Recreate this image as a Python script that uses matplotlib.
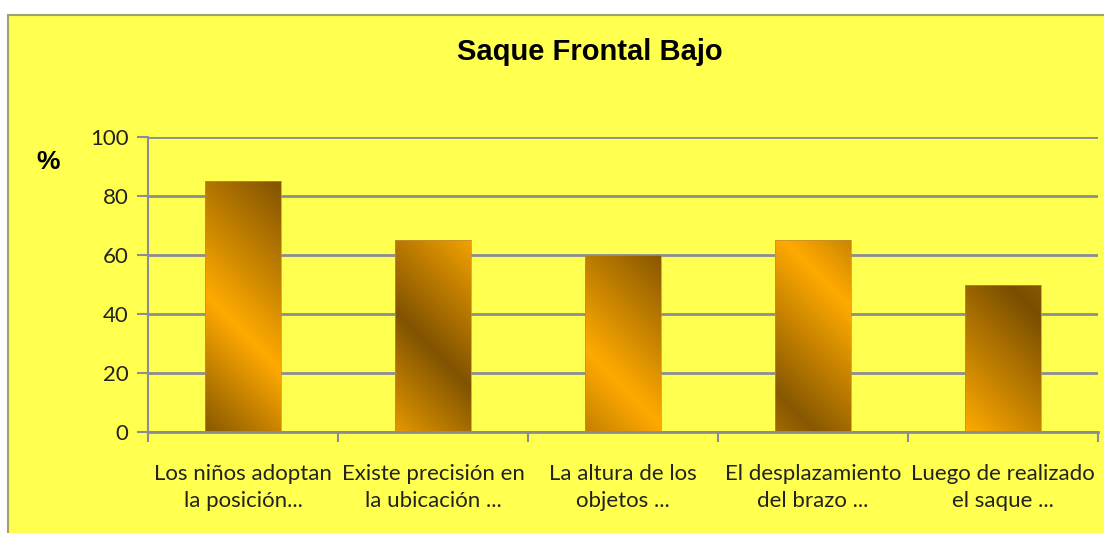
import numpy as np
import matplotlib
matplotlib.use("Agg")
from matplotlib import pyplot as plt
from matplotlib.patches import Rectangle
from matplotlib.colors import to_rgb

# Data
categories = ["Los niños adoptan\nla posición...", "Existe precisión en\nla ubicación ...",
              "La altura de los\nobjetos ...", "El desplazamiento\ndel brazo ...",
              "Luego de realizado\nel saque ..."]
values = [85, 65, 60, 65, 50]
yticks = [0, 20, 40, 60, 80, 100]

# gradient stops per bar (position along top-right -> bottom-left, lightness)
shade_stops = [
    [(0.0, 0.05), (0.58, 1.0), (1.0, 0.1)],
    [(0.0, 0.9), (0.55, 0.05), (1.0, 0.8)],
    [(0.0, 0.1), (0.67, 1.0), (1.0, 0.55)],
    [(0.0, 0.6), (0.25, 1.0), (0.85, 0.1), (1.0, 0.3)],
    [(0.0, 0.1), (0.15, 0.0), (1.0, 1.0)],
]

DARK = np.array(to_rgb("#7a4e00"))
LIGHT = np.array(to_rgb("#ffaa00"))
YELLOW = "#ffff4f"
GRID = "#8c8c96"

fig = plt.figure(figsize=(11.04, 5.33), dpi=100)
fig.patch.set_facecolor("white")
fig.patches.append(Rectangle((8 / 1104, -0.01), 1.0, 1 - 15 / 533 + 0.01, transform=fig.transFigure,
                             facecolor=YELLOW, edgecolor="#a0a070", linewidth=1.5, zorder=-10))

ax = fig.add_axes([148 / 1104, 1 - 432 / 533, 950 / 1104, 295 / 533])
ax.set_facecolor("none")

width = 0.4
x = np.arange(len(categories))
bars = ax.bar(x, values, width=width, color="none", edgecolor="#c09030", linewidth=0.5, zorder=3)

# fill each bar with a diagonal gradient, clipped to the bar
for bar, stops in zip(bars, shade_stops):
    x0, h = bar.get_x(), bar.get_height()
    px_w = 76
    px_h = int(h / 100 * 295)
    xx, yy = np.meshgrid(np.arange(px_w), np.arange(px_h))
    u = ((px_w - 1 - xx) + yy) / (px_w + px_h - 2)
    pos = [s[0] for s in stops]
    lv = [s[1] for s in stops]
    t = np.interp(u, pos, lv)[..., None]
    img = DARK * (1 - t) + LIGHT * t
    im = ax.imshow(img, extent=(x0, x0 + width, 0, h), origin="upper", aspect="auto",
                   interpolation="bilinear", zorder=2)
    im.set_clip_path(bar)

ax.set_xlim(-0.5, 4.5)
ax.set_ylim(0, 100)

ax.set_yticks(yticks)
ax.yaxis.grid(True, color=GRID, linewidth=2)
ax.set_axisbelow(True)
ax.set_xticks(x)
ax.set_xticklabels(categories, fontsize=16, family="Lato", color="#222222", linespacing=1.45)
ax.set_xticks(np.arange(-0.5, 5, 1), minor=True)
ax.tick_params(axis="x", which="major", length=0, pad=23)
ax.tick_params(axis="x", which="minor", length=7, width=1.5, color=GRID)
ax.tick_params(axis="y", length=8, width=1.5, color=GRID, labelsize=16, labelcolor="#222222", pad=6)
for lbl in ax.get_yticklabels():
    lbl.set_family("Lato")

for side in ["top", "right"]:
    ax.spines[side].set_visible(False)
ax.spines["left"].set_color(GRID)
ax.spines["left"].set_linewidth(1.5)
ax.spines["bottom"].set_color(GRID)
ax.spines["bottom"].set_linewidth(2)

fig.text(590 / 1104, 1 - 52 / 533, "Saque Frontal Bajo", ha="center", va="center",
         fontsize=21, fontweight="bold", family="Liberation Sans")
fig.text(48 / 1104, 1 - 162 / 533, "%", ha="center", va="center",
         fontsize=19, fontweight="bold", family="Liberation Sans")

fig.savefig("out.png", dpi=100, facecolor=fig.get_facecolor())
